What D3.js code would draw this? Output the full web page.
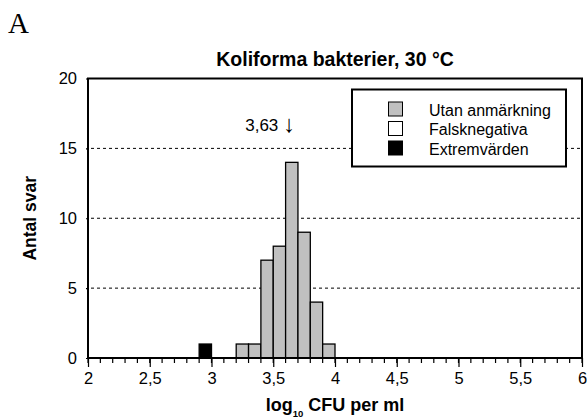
<!DOCTYPE html>
<html>
<head>
<meta charset="utf-8">
<script src="https://cdn.jsdelivr.net/npm/d3@7/dist/d3.min.js"></script>
<style>
  html, body { margin: 0; padding: 0; background: #fff; }
  svg { display: block; }
  text { font-family: "Liberation Sans", Arial, sans-serif; fill: #000; }
</style>
</head>
<body>
<svg id="chart" width="587" height="419"></svg>
<script>
// Histogram bins (lower edge, log10 CFU per ml) and counts per category
const binStart = [2.9, 3.2, 3.3, 3.4, 3.5, 3.6, 3.7, 3.8, 3.9];
const binWidth = 0.1;
const utanAnmarkning = [0, 1, 1, 7, 8, 14, 9, 4, 1];
const falsknegativa = [0, 0, 0, 0, 0, 0, 0, 0, 0];
const extremvarden = [1, 0, 0, 0, 0, 0, 0, 0, 0];
const median = 3.63;

const xTicks = [2, 2.5, 3, 3.5, 4, 4.5, 5, 5.5, 6];
const yTicks = [0, 5, 10, 15, 20];
const gridTicks = [5, 10, 15];

const seriesNames = ["Utan anmärkning", "Falsknegativa", "Extremvärden"];
const seriesFill = ["#c0c0c0", "#ffffff", "#000000"];
const seriesValues = [utanAnmarkning, falsknegativa, extremvarden];

const svg = d3.select("#chart");
const plotL = 88, plotR = 582, plotT = 78.5, plotB = 358;

const x = d3.scaleLinear().domain([2, 6]).range([plotL, plotR]);
const y = d3.scaleLinear().domain([0, 20]).range([plotB, plotT]);
const comma = d => String(d).replace(".", ",");

// Panel letter
svg.append("text").attr("x", 8).attr("y", 32.7)
  .style("font-family", "'Liberation Serif', 'Times New Roman', serif")
  .style("font-size", "29px").text("A");

// Title
svg.append("text").attr("x", (plotL + plotR) / 2).attr("y", 65.7)
  .attr("text-anchor", "middle").style("font-weight", "bold").style("font-size", "19.5px")
  .text("Koliforma bakterier, 30 °C");

// Dashed gridlines
svg.append("g").selectAll("line").data(gridTicks).join("line")
  .attr("x1", plotL + 3).attr("x2", plotR)
  .attr("y1", d => y(d)).attr("y2", d => y(d))
  .attr("stroke", "#000").attr("stroke-width", 1).attr("stroke-dasharray", "3,3");

// Stacked bars
const stackData = binStart.map((b, i) => {
  const o = { b };
  seriesNames.forEach((n, k) => { o[n] = seriesValues[k][i]; });
  return o;
});
const stack = d3.stack().keys(seriesNames)(stackData);
stack.forEach((layer, k) => {
  svg.append("g").selectAll("rect")
    .data(layer.filter(d => d[1] - d[0] > 0)).join("rect")
    .attr("x", d => x(d.data.b))
    .attr("width", d => x(d.data.b + binWidth) - x(d.data.b))
    .attr("y", d => y(d[1]))
    .attr("height", d => y(d[0]) - y(d[1]))
    .attr("fill", seriesFill[k]).attr("stroke", "#000").attr("stroke-width", 1.3);
});

// Frame
svg.append("rect").attr("x", plotL).attr("y", plotT)
  .attr("width", plotR - plotL).attr("height", plotB - plotT)
  .attr("fill", "none").attr("stroke", "#000").attr("stroke-width", 2);

// X axis: minor ticks every 0.1, major every 0.5
const minor = d3.range(20, 61).map(v => v / 10);
svg.append("g").selectAll("line").data(minor).join("line")
  .attr("x1", d => x(d)).attr("x2", d => x(d))
  .attr("y1", plotB).attr("y2", plotB + 5)
  .attr("stroke", "#000").attr("stroke-width", 1.2);
const xAxis = d3.axisBottom(x).tickValues(xTicks).tickFormat(comma)
  .tickSize(9).tickPadding(5);
const gx = svg.append("g").attr("transform", `translate(0,${plotB})`).call(xAxis);
gx.select(".domain").remove();
gx.selectAll(".tick line").attr("stroke-width", 1.2);
gx.selectAll(".tick text").style("font-size", "16.5px").style("font-family", "'Liberation Sans', Arial, sans-serif");

// Y axis labels
const yAxis = d3.axisLeft(y).tickValues(yTicks).tickFormat(d3.format("d"))
  .tickSize(2).tickPadding(9);
const gy = svg.append("g").attr("transform", `translate(${plotL},0)`).call(yAxis);
gy.select(".domain").remove();
gy.selectAll(".tick line").attr("stroke-width", 1.2);
gy.selectAll(".tick text").style("font-size", "16.5px").style("font-family", "'Liberation Sans', Arial, sans-serif");

// Axis titles
svg.append("text").attr("transform", `translate(36,${(plotT + plotB) / 2}) rotate(-90)`)
  .attr("text-anchor", "middle").style("font-weight", "bold").style("font-size", "17.5px")
  .text("Antal svar");
const xl = svg.append("text").attr("x", (plotL + plotR) / 2).attr("y", 410.7)
  .attr("text-anchor", "middle").style("font-weight", "bold").style("font-size", "18px");
xl.append("tspan").text("log");
xl.append("tspan").attr("dy", 6.5).style("font-size", "9.5px").text("10");
xl.append("tspan").attr("dy", -6.5).text(" CFU per ml");

// Median marker: value text with an arrow pointing at the median
svg.append("text").attr("x", x(median) - 11).attr("y", 130.7)
  .attr("text-anchor", "end").style("font-size", "17px")
  .text(comma(median));
svg.append("text").attr("x", x(median)).attr("y", 132)
  .attr("text-anchor", "middle").style("font-size", "24px")
  .text("↓");

// Legend
const lg = svg.append("g");
lg.append("rect").attr("x", 352).attr("y", 89.5).attr("width", 214).attr("height", 77)
  .attr("fill", "#fff").attr("stroke", "#000").attr("stroke-width", 2);
seriesNames.forEach((n, i) => {
  const yy = 102 + i * 19.5;
  lg.append("rect").attr("x", 388.5).attr("y", yy).attr("width", 14).attr("height", 14)
    .attr("fill", seriesFill[i]).attr("stroke", "#000").attr("stroke-width", 1);
  lg.append("text").attr("x", 429).attr("y", yy + 13.5).style("font-size", "16px").text(n);
});
</script>
</body>
</html>
